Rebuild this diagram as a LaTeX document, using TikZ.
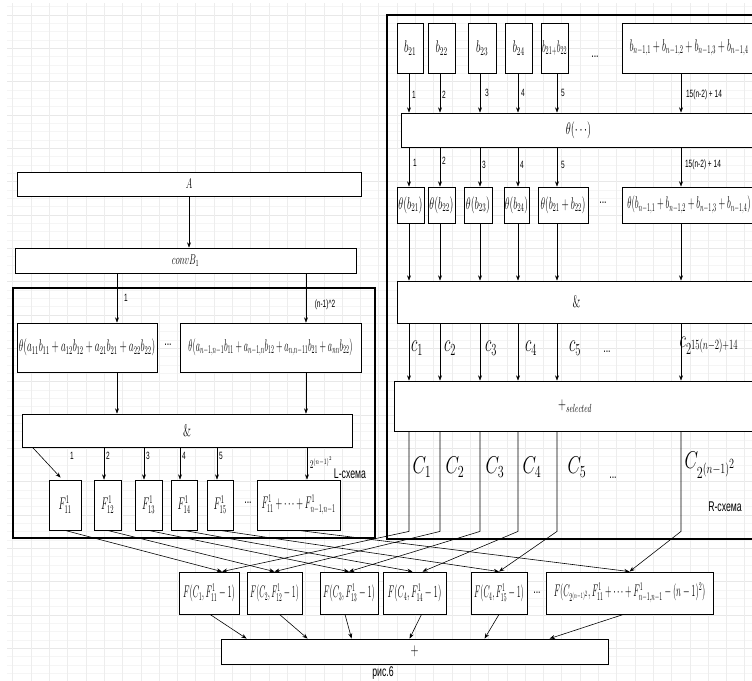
\documentclass[tikz,border=0pt]{standalone}
\usepackage{fontspec}
\usepackage{graphicx}
\usetikzlibrary{arrows.meta,calc,shadows}
\newfontfamily\lsans{Liberation Sans}
\newcommand{\nm}[2][0.62]{\scalebox{#1}[1]{$#2$}}
\newcommand{\sn}[2][0.62]{\scalebox{#1}[1]{\lsans #2}}

\begin{document}
\begin{tikzpicture}[x=0.03cm, y=-0.03cm, >={Stealth[length=4.5pt,width=3.4pt]},
  blk/.style 2 args={draw, fill=white, line width=0.7pt, inner sep=0pt, font=\Large,
    minimum width=#1*0.3mm, minimum height=#2*0.3mm,
    drop shadow={shadow xshift=0.8pt, shadow yshift=-0.8pt, fill=black!25}},
  scheme/.style={draw, line width=2.4pt},
  lbl/.style={inner sep=0pt, font=\small},
  wire/.style={line width=0.5pt}]

\useasboundingbox (0,0) rectangle (752,681);
\clip (0,0) rectangle (752,681);

% background grid
\foreach \k in {0,...,81}
  \draw[black!4] (7,{6.7+\k*8.333}) -- (752,{6.7+\k*8.333});
\foreach \k in {0,...,20}
  \draw[black!9] (7,{15+\k*33.33}) -- (752,{15+\k*33.33});
\foreach \k in {0,...,40}
  \draw[black!7] ({12.7+\k*18.3},3) -- ({12.7+\k*18.3},681);

% scheme frames
\draw[scheme] (13,288) rectangle (375,538);
\draw[scheme] (387,15) rectangle (770,539);

% R-scheme
\node[blk={26}{50}] (rb1) at (410,48) {\nm{b_{21}}};
\node[blk={27}{50}] (rb2) at (441.5,48) {\nm{b_{22}}};
\node[blk={28}{50}] (rb3) at (482,48) {\nm{b_{23}}};
\node[blk={27}{50}] (rb4) at (518.5,48) {\nm{b_{24}}};
\node[blk={27}{50}] (rb5) at (554.5,48) {\nm[0.52]{b_{21+}b_{22}}};
\node[lbl,font=\large] (rd1) at (595,57) {\sn{...}};
\node[blk={134}{50}] (rbn) at (689,48) {\nm[0.55]{b_{n-1,1}+b_{n-1,2}+b_{n-1,3}+b_{n-1,4}}};

\node[blk={355}{34}] (rth) at (578.5,130) {\nm{\theta(\cdots)}};

\node[blk={27}{36}] (rt1) at (410.5,205) {\nm[0.6]{\theta(b_{21})}};
\node[blk={27}{36}] (rt2) at (441.5,205) {\nm[0.6]{\theta(b_{22})}};
\node[blk={28}{36}] (rt3) at (478,205) {\nm[0.6]{\theta(b_{23})}};
\node[blk={25}{36}] (rt4) at (516.5,205) {\nm[0.58]{\theta(b_{24})}};
\node[blk={50}{36}] (rt5) at (563,205) {\nm[0.56]{\theta(b_{21}+b_{22})}};
\node[lbl,font=\large] (rd2) at (603,203) {\sn{...}};
\node[blk={134}{36}] (rtn) at (689,205) {\nm[0.52]{\theta(b_{n-1,1}+b_{n-1,2}+b_{n-1,3}+b_{n-1,4})}};

\node[blk={359}{42}] (rand) at (576.5,302) {\nm{\&}};
\node[blk={362}{50}] (rsel) at (575,406) {\nm{+_{selected}}};

\foreach \i/\x in {1/409,2/440,3/480,4/518,5/557,n/681}
  \coordinate (col\i) at (\x,0);
\foreach \i in {1,2,3,4,5,n} {
  \draw[->,wire] (rb\i.south -| col\i) -- (rth.north -| col\i);
  \draw[->,wire] (rth.south -| col\i) -- (rt\i.north -| col\i);
  \draw[->,wire] (rt\i.south -| col\i) -- (rand.north -| col\i);
  \draw[->,wire] (rand.south -| col\i) -- (rsel.north -| col\i);
}
\foreach \i/\x/\y in {1/414/95,2/444/95,3/487/93,4/523/93,5/563/93}
  \node[lbl] (ra\i) at (\x,\y) {\sn{\i}};
\node[lbl] (ran) at (704,95) {\sn{15(n-2) + 14}};
\foreach \i/\x/\y in {1/415/163,2/444/161,3/484/165,4/522/165,5/563/165}
  \node[lbl] (rc\i) at (\x,\y) {\sn{\i}};
\node[lbl] (rcn) at (703,165) {\sn{15(n-2) + 14}};

\foreach \i/\x in {1/417,2/450,3/491,4/531,5/575}
  \node[lbl,font=\huge] (cs\i) at (\x,348) {\nm{c_{\i}}};
\node[lbl,font=\large] (csd) at (607,352) {\sn{...}};
\node[lbl,font=\huge] (csn) at (709,346) {\nm{c_{2^{15(n-2)+14}}}};

\foreach \i/\x in {1/422,2/455,3/495,4/532,5/577}
  \node[lbl,font=\huge] (cb\i) at (\x,467) {\nm[0.72]{C_{\i}}};
\node[lbl,font=\large] (cbd) at (613,478) {\sn{...}};
\node[lbl,font=\huge] (cbn) at (710,465) {\nm[0.72]{C_{2^{(n-1)^2}}}};
\node[lbl,font=\large] (rlab) at (725,507) {\sn{R-схема}};

% L-scheme
\node[blk={344}{24},font=\large] (la) at (189,184) {\nm{A}};
\node[blk={341}{25},font=\large] (lconv) at (185.5,260.5) {\nm{convB_1}};
\node[blk={140}{49}] (lt1) at (87,347.5)
  {\nm[0.56]{\theta(a_{11}b_{11}+a_{12}b_{12}+a_{21}b_{21}+a_{22}b_{22})}};
\node[lbl,font=\large] (ld1) at (168,345) {\sn{...}};
\node[blk={181}{49}] (ltn) at (270.5,347.5)
  {\nm[0.5]{\theta(a_{n-1,n-1}b_{11}+a_{n-1,n}b_{12}+a_{n,n-11}b_{21}+a_{nn}b_{22})}};
\node[blk={330}{33}] (land) at (187,430.5) {\nm{\&}};

\node[blk={32}{50}] (lf1) at (65,505) {\nm[0.56]{F^1_{11}}};
\node[blk={27}{50}] (lf2) at (107.5,505) {\nm[0.56]{F^1_{12}}};
\node[blk={27}{50}] (lf3) at (148.5,505) {\nm[0.56]{F^1_{13}}};
\node[blk={26}{50}] (lf4) at (184,505) {\nm[0.56]{F^1_{14}}};
\node[blk={26}{50}] (lf5) at (220,505) {\nm[0.56]{F^1_{15}}};
\node[lbl,font=\large] (ld2) at (248,503) {\sn{...}};
\node[blk={83}{50}] (lfn) at (298.5,505) {\nm[0.52]{F^1_{11}+\cdots+F^1_{n-1,n-1}}};
\node[lbl,font=\large] (llab) at (350,474) {\sn{L-схема}};

\coordinate (colL1) at (117,0);
\coordinate (colL2) at (306,0);
\draw[->,wire] (la.south) -- (la.south |- lconv.north);
\draw[->,wire] (lconv.south -| colL1) -- (lt1.north -| colL1);
\draw[->,wire] (lconv.south -| colL2) -- (ltn.north -| colL2);
\draw[->,wire] (lt1.south -| colL1) -- (land.north -| colL1);
\draw[->,wire] (ltn.south -| colL2) -- (land.north -| colL2);
\node[lbl] (lk1) at (126,298) {\sn{1}};
\node[lbl] (lkn) at (325,305) {\sn{(n-1)\^{}2}};

\draw[->,wire] ($(land.south west)+(11,0)$) -- ($(lf1.north west)+(12,-2)$);
\foreach \i/\x in {2/104,3/144,4/180,5/217,n/307} {
  \coordinate (lx\i) at (\x,0);
  \draw[->,wire] (land.south -| lx\i) -- (lf\i.north -| lx\i);
}
\foreach \i/\x in {1/72,2/108,3/148,4/184,5/221}
  \node[lbl] (lm\i) at (\x,456) {\sn{\i}};
\node[lbl,font=\normalsize] (lmn) at (321,463) {\nm{2^{(n-1)^2}}};

% F row and sum
\node[blk={60}{42}] (f1) at (209,593) {\nm[0.5]{F(C_1,F^1_{11}-1)}};
\node[blk={55}{42}] (f2) at (274.5,593) {\nm[0.47]{F(C_2,F^1_{12}-1)}};
\node[blk={58}{42}] (f3) at (349,593) {\nm[0.5]{F(C_3,F^1_{13}-1)}};
\node[blk={63}{42}] (f4) at (414.5,593) {\nm[0.52]{F(C_4,F^1_{14}-1)}};
\node[blk={56}{42}] (f5) at (499,593) {\nm[0.48]{F(C_4,F^1_{15}-1)}};
\node[lbl,font=\large] (fd) at (537,593) {\sn{...}};
\node[blk={167}{42}] (fn) at (629.5,593)
  {\nm[0.5]{F(C_{2^{(n-1)^2}},F^1_{11}+\cdots+F^1_{n-1,n-1}-(n-1)^2)}};
\node[blk={387}{25}] (sum) at (414.5,651.5) {\nm{+}};
\node[lbl,font=\large] (cap) at (383,673) {\sn{рис.6}};

\coordinate (in1) at ($(f1.north)+(13,0)$);
\coordinate (in2) at (f2.north);
\coordinate (in3) at (f3.north);
\coordinate (in4) at ($(f4.north)+(8,0)$);
\coordinate (in4l) at ($(f4.north)+(-2,0)$);
\coordinate (in5) at (f5.north);
\coordinate (inn) at (fn.north);

\foreach \i in {1,2,3,4,5,n}
  \draw[->,wire] (rsel.south -| col\i) -- ++(0,100) -- (in\i);
\foreach \i/\t in {1/in1,2/in2,3/in3,4/in4l,5/in5,n/inn}
  \draw[->,wire] (lf\i.south) -- (\t);

\draw[->,wire] ($(f1.south)+(1,0)$) -- ($(sum.north west)+(26,0)$);
\draw[->,wire] ($(f2.south)+(5,0)$) -- ($(sum.north west)+(87,0)$);
\draw[->,wire] ($(f3.south)+(-4,0)$) -- ($(sum.north west)+(131,0)$);
\draw[->,wire] ($(f4.south)+(7,0)$) -- ($(sum.north west)+(189,0)$);
\draw[->,wire] (f5.south) -- ($(sum.north west)+(264,0)$);
\draw[->,wire] ($(fn.south)+(-6,0)$) -- ($(sum.north west)+(329,0)$);
\end{tikzpicture}
\end{document}
